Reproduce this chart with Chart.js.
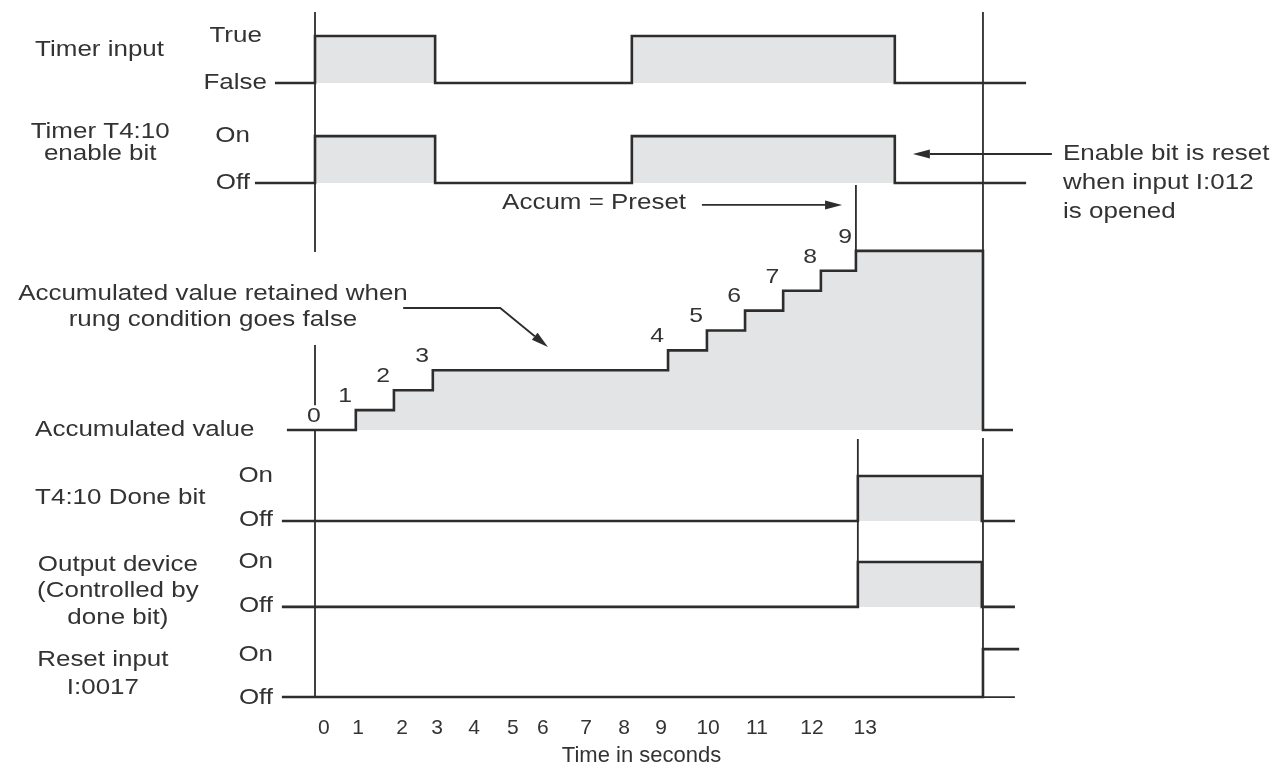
<!DOCTYPE html>
<html>
<head>
<meta charset="utf-8">
<script src="https://cdn.jsdelivr.net/npm/chart.js@4.4.1/dist/chart.umd.min.js"></script>
<style>
  html, body { margin: 0; padding: 0; background: #fff; }
  #wrap { width: 1283px; height: 769px; position: relative; }
</style>
</head>
<body>
<div id="wrap"><canvas id="timing"></canvas></div>
<script>
// time axis: labels and where each one sits (seconds as drawn)
const tickLabels = ['0', '1', '2', '3', '4', '5', '6', '7', '8', '9', '10', '11', '12', '13'];
const tickAt = [0.23, 1.12, 2.26, 3.17, 4.13, 5.14, 5.92, 7.04, 8.03, 8.99, 10.21, 11.48, 12.91, 14.29];

// signals: edge times and the level after each edge (0 = off/false, 1 = on/true)
const timerInputT = [-1.04, 0, 3.12, 8.23, 15.06, 18.47];
const timerInputV = [0, 1, 0, 1, 0, 0];
const enableT = [-1.56, 0, 3.12, 8.23, 15.06, 18.47];
const enableV = [0, 1, 0, 1, 0, 0];
const accumT = [-0.73, 1.06, 2.05, 3.06, 9.17, 10.18, 11.17, 12.16, 13.14, 14.05, 17.35, 18.13];
const accumV = [0, 1, 2, 3, 4, 5, 6, 7, 8, 9, 0, 0];
const doneT = [-0.86, 14.1, 17.32, 18.18];
const doneV = [0, 1, 0, 0];
const outputT = [-0.86, 14.1, 17.32, 18.18];
const outputV = [0, 1, 0, 0];
const resetT = [-0.86, 17.35, 18.29];
const resetV = [0, 1, 1];

// lane levels on the shared y scale: [off, on]
const lanes = {
    timer: [17.44, 19.80],
    enable: [12.41, 14.77],
    accum: [0, 1],
    done: [-4.57, -2.31],
    output: [-8.89, -6.63],
    reset: [-13.42, -11.01]
};

const INK = '#2d2d2d';
const SHADE = '#e3e4e6';
const FONT = '"Liberation Sans", Arial, Helvetica, sans-serif';
const STRETCH = 1.18;

function signal(ts, vs, lane, fill) {
    return {
        data: ts.map((t, i) => ({ x: t, y: lane[0] + vs[i] * (lane[1] - lane[0]) })),
        stepped: 'before',
        borderColor: INK,
        borderWidth: 2.6,
        backgroundColor: SHADE,
        fill: fill ? { value: lane[0] } : false
    };
}

function guide(t0, y0, t1, y1) {
    return {
        data: [{ x: t0, y: y0 }, { x: t1, y: y1 }],
        borderColor: INK,
        borderWidth: 1.8,
        fill: false
    };
}

const datasets = [
    signal(timerInputT, timerInputV, lanes.timer, true),
    signal(enableT, enableV, lanes.enable, true),
    signal(accumT, accumV, lanes.accum, true),
    signal(doneT, doneV, lanes.done, true),
    signal(outputT, outputV, lanes.output, true),
    signal(resetT, resetV, lanes.reset, false),
    guide(17.35, lanes.reset[0], 18.18, lanes.reset[0]),
    guide(0, 21.0, 0, 8.94),
    guide(0, 4.27, 0, 1.25),
    guide(0, 0, 0, lanes.reset[0]),
    guide(17.35, 21.0, 17.35, 0),
    guide(17.35, -0.4, 17.35, lanes.reset[0]),
    guide(14.05, 12.31, 14.05, 9),
    guide(14.1, -0.45, 14.1, lanes.output[1])
];

// text notes, placed in chart units
const notes = [
    { text: 'Timer input', t: -7.27, v: 19.10, align: 'left' },
    { text: 'True', t: -1.38, v: 19.80, align: 'right' },
    { text: 'False', t: -1.25, v: 17.44, align: 'right' },
    { text: 'Timer T4:10', t: -5.58, v: 14.97, align: 'center' },
    { text: 'enable bit', t: -5.58, v: 13.87, align: 'center' },
    { text: 'On', t: -1.69, v: 14.77, align: 'right' },
    { text: 'Off', t: -1.69, v: 12.41, align: 'right' },
    { text: 'Accumulated value retained when', t: -2.65, v: 6.83, align: 'center' },
    { text: 'rung condition goes false', t: -2.65, v: 5.53, align: 'center' },
    { text: 'Accumulated value', t: -7.27, v: 0, align: 'left' },
    { text: 'T4:10 Done bit', t: -7.27, v: -3.42, align: 'left' },
    { text: 'On', t: -1.09, v: -2.31, align: 'right' },
    { text: 'Off', t: -1.09, v: -4.52, align: 'right' },
    { text: 'Output device', t: -5.12, v: -6.78, align: 'center' },
    { text: '(Controlled by', t: -5.12, v: -8.09, align: 'center' },
    { text: 'done bit)', t: -5.12, v: -9.45, align: 'center' },
    { text: 'On', t: -1.09, v: -6.63, align: 'right' },
    { text: 'Off', t: -1.09, v: -8.84, align: 'right' },
    { text: 'Reset input', t: -5.51, v: -11.56, align: 'center' },
    { text: 'I:0017', t: -5.51, v: -12.96, align: 'center' },
    { text: 'On', t: -1.09, v: -11.31, align: 'right' },
    { text: 'Off', t: -1.09, v: -13.47, align: 'right' },
    { text: 'Accum = Preset', t: 4.86, v: 11.41, align: 'left' },
    { text: 'Enable bit is reset', t: 19.43, v: 13.87, align: 'left' },
    { text: 'when input I:012', t: 19.43, v: 12.41, align: 'left' },
    { text: 'is opened', t: 19.43, v: 10.95, align: 'left' }
];

// leader arrows, last point is the tip
const arrows = [
    [[19.14, 13.87], [15.53, 13.87]],
    [[10.05, 11.31], [13.69, 11.31]],
    [[2.29, 6.13], [4.81, 6.13], [6.05, 4.17]]
];

function drawText(ctx, text, px, py, align) {
    ctx.save();
    ctx.translate(px, py);
    ctx.scale(STRETCH, 1);
    ctx.textAlign = align;
    ctx.fillText(text, 0, 0);
    ctx.restore();
}

const notesPlugin = {
    id: 'notes',
    afterDatasetsDraw(chart) {
        const { ctx, scales: { x, y } } = chart;
        ctx.save();
        ctx.fillStyle = '#333';
        ctx.textBaseline = 'middle';
        ctx.font = `22px ${FONT}`;
        notes.forEach(n => drawText(ctx, n.text, x.getPixelForValue(n.t), y.getPixelForValue(n.v), n.align));

        // count labels beside each step of the accumulated value
        ctx.font = `21px ${FONT}`;
        accumV.slice(0, 10).forEach((c, i) => {
            const t = i === 0 ? 0.25 : accumT[i];
            drawText(ctx, String(c), x.getPixelForValue(t - 0.28), y.getPixelForValue(c + 0.7), 'center');
        });

        ctx.strokeStyle = INK;
        ctx.fillStyle = INK;
        ctx.lineWidth = 1.8;
        arrows.forEach(pts => {
            const p = pts.map(([t, v]) => [x.getPixelForValue(t), y.getPixelForValue(v)]);
            const tip = p[p.length - 1];
            const prev = p[p.length - 2];
            const ang = Math.atan2(tip[1] - prev[1], tip[0] - prev[0]);
            const len = 17, half = 4.5;
            const bx = tip[0] - len * Math.cos(ang), by = tip[1] - len * Math.sin(ang);
            ctx.beginPath();
            ctx.moveTo(p[0][0], p[0][1]);
            for (let i = 1; i < p.length - 1; i++) ctx.lineTo(p[i][0], p[i][1]);
            ctx.lineTo(bx, by);
            ctx.stroke();
            ctx.beginPath();
            ctx.moveTo(tip[0], tip[1]);
            ctx.lineTo(bx + half * Math.sin(ang), by - half * Math.cos(ang));
            ctx.lineTo(bx - half * Math.sin(ang), by + half * Math.cos(ang));
            ctx.closePath();
            ctx.fill();
        });
        ctx.restore();
    }
};

new Chart(document.getElementById('timing'), {
    type: 'line',
    data: { datasets },
    options: {
        responsive: true,
        maintainAspectRatio: false,
        animation: false,
        layout: { padding: 0 },
        elements: { point: { radius: 0, hoverRadius: 0 }, line: { capBezierPoints: false } },
        plugins: {
            legend: { display: false },
            tooltip: { enabled: false },
            filler: { drawTime: 'beforeDatasetsDraw' }
        },
        scales: {
            x: {
                type: 'linear',
                min: -8.1818,
                max: 25.1429,
                grid: { display: false, drawTicks: false },
                border: { display: false },
                afterBuildTicks: (scale) => { scale.ticks = tickAt.map(v => ({ value: v })); },
                afterFit: (scale) => { scale.height = 59; },
                ticks: {
                    autoSkip: false,
                    maxRotation: 0,
                    padding: 6,
                    color: '#333',
                    font: { family: FONT, size: 21 },
                    callback: (v, i) => tickLabels[i]
                },
                title: {
                    display: true,
                    text: 'Time in seconds',
                    color: '#333',
                    font: { family: FONT, size: 22 },
                    padding: 0
                }
            },
            y: {
                type: 'linear',
                display: false,
                min: -14.07,
                max: 21.608
            }
        }
    },
    plugins: [notesPlugin]
});
</script>
</body>
</html>
